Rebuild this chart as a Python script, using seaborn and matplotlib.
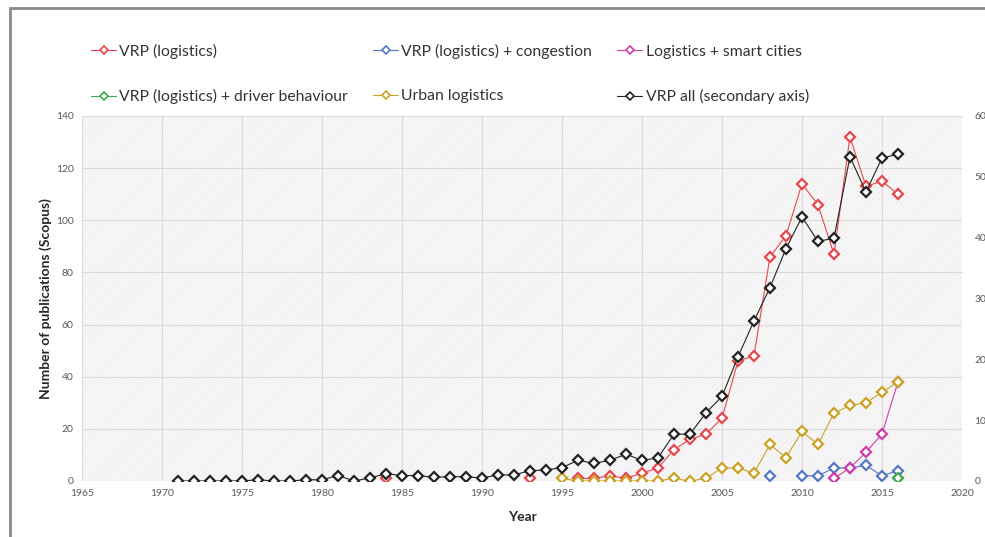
import numpy as np
import pandas as pd
import seaborn as sns
import matplotlib
matplotlib.use("Agg")
import matplotlib.pyplot as plt
from matplotlib.lines import Line2D
from matplotlib.patches import Rectangle

# Jahre und Werte, None = kein Wert
jahre = list(range(1971, 2017))

vrp_logistik = [None] * 13 + [1] + [None] * 8 + [1] + [None] * 2 + [
    1, 1, 2, 1, 3, 5, 12, 16, 18, 24, 46, 48, 86, 94, 114, 106, 87, 132, 113, 115, 110]
vrp_stau = [None] * 37 + [2, None, 2, 2, 5, 5, 6, 2, 4]
smart_cities = [None] * 41 + [1, 5, 11, 18, 38]
fahrer = [None] * 45 + [1]
urban = [None] * 24 + [1, 0, 0, 0, 0, 0, 0, 1, 0, 1, 5, 5, 3, 14, 9, 19, 14, 26, 29, 30, 34, 38]
vrp_alle = [0, 0, 0, 0, 0, 2, 0, 0, 2, 2, 9, 0, 5, 12, 9, 9, 6, 7, 7, 5, 10, 10, 17, 18, 22,
            34, 29, 34, 44, 34, 38, 77, 77, 112, 139, 204, 263, 318, 382, 434, 394, 399, 533, 475,
            531, 537]

reihen = [
    ("VRP (logistics)", vrp_logistik, "#e8464e", "links"),
    ("VRP (logistics) + congestion", vrp_stau, "#5578c0", "links"),
    ("Logistics + smart cities", smart_cities, "#d23ca8", "links"),
    ("VRP (logistics) + driver behaviour", fahrer, "#3aa84c", "links"),
    ("Urban logistics", urban, "#c9a227", "links"),
    ("VRP all (secondary axis)", vrp_alle, "#222222", "rechts"),
]

sns.set_style("white")
plt.rcParams["font.family"] = ["Lato", "DejaVu Sans"]
plt.rcParams["hatch.linewidth"] = 0.4

fig = plt.figure(figsize=(9.85, 5.37), dpi=100)
ax = fig.add_axes([0.0833, 0.1043, 0.8933, 0.6797])
ax2 = ax.twinx()

# Hintergrund mit feiner Schraffur
ax.set_facecolor("#f6f6f6")
ax.add_patch(Rectangle((0, 0), 1, 1, transform=ax.transAxes, facecolor="none",
                       edgecolor="#ebebeb", hatch="//////", linewidth=0, zorder=0))

for name, werte, farbe, achse in reihen:
    df = pd.DataFrame({"Jahr": jahre, "Wert": werte}, dtype=float)
    df["Teil"] = df["Wert"].isna().cumsum()
    df = df.dropna()
    ziel = ax if achse == "links" else ax2
    sns.lineplot(data=df, x="Jahr", y="Wert", units="Teil", estimator=None, ax=ziel,
                 color=farbe, linewidth=0.8, marker="D", markersize=4.6,
                 markerfacecolor="white", markeredgecolor=farbe, markeredgewidth=1.6)

ax.set_xlim(1965, 2020)
ax.set_ylim(0, 140)
ax2.set_ylim(0, 600)
ax.set_xticks(np.arange(1965, 2021, 5))
ax.set_yticks(np.arange(0, 141, 20))
ax2.set_yticks(np.arange(0, 601, 100))
ax.grid(True, color="#dadada", linewidth=0.8)
ax.set_axisbelow(True)
for a in (ax, ax2):
    for s in a.spines.values():
        s.set_visible(False)
    a.tick_params(length=0, labelsize=7.5, labelcolor="#595959", pad=6)
    a.set_xlabel("")
    a.set_ylabel("")
ax2.tick_params(pad=9)

ax.set_xlabel("Year", fontsize=10, fontweight="bold", color="#262626", labelpad=9)
ax.set_ylabel("Number of publications (Scopus)", fontsize=10, fontweight="bold",
              color="#262626", labelpad=3)

# Legende oben, zeilenweise sortiert
griffe = {}
for name, werte, farbe, achse in reihen:
    griffe[name] = Line2D([], [], color=farbe, linewidth=0.8, marker="D", markersize=4,
                          markerfacecolor="white", markeredgecolor=farbe, markeredgewidth=1.2)
reihenfolge = ["VRP (logistics)", "VRP (logistics) + driver behaviour",
               "VRP (logistics) + congestion", "Urban logistics",
               "Logistics + smart cities", "VRP all (secondary axis)"]
leg = fig.legend([griffe[n] for n in reihenfolge], reihenfolge, ncol=3, loc="upper left",
                 bbox_to_anchor=(0.078, 0.945), frameon=False, fontsize=11.3,
                 handlelength=1.6, handletextpad=0.2, columnspacing=1.6, labelspacing=1.95)
for t in leg.get_texts():
    t.set_color("#333333")

# Rahmen um die Grafik
fig.add_artist(Rectangle((10 / 985, -0.05), 1.2, 1.05 - 8 / 537, transform=fig.transFigure,
                         facecolor="none", edgecolor="#8a8a8a", linewidth=2))

fig.savefig("out.png", dpi=100)
